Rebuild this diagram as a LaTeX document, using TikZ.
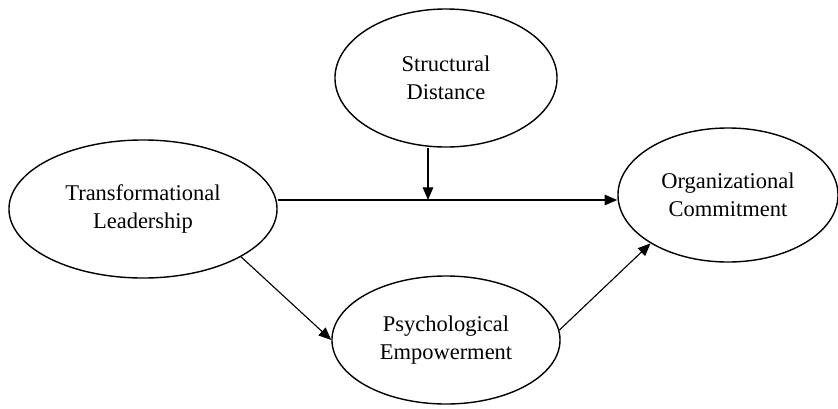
\documentclass[tikz,border=0pt]{standalone}
\usepackage{fontspec}
\setmainfont{Liberation Serif}
\usetikzlibrary{shapes.geometric,arrows.meta}

\begin{document}
\begin{tikzpicture}[x=0.025cm, y=-0.025cm, line width=1pt,
            factor/.style = {ellipse, draw,
                inner sep=0pt, align=center,
                font=\fontsize{16}{19.5}\selectfont},
            link/.style = {line width=0.8pt,
                -{Triangle[length=9pt,width=7.5pt]}}]

        \useasboundingbox (0,0) rectangle (838,409);

        % Structural distance
        \node[factor, minimum width=5.55cm, minimum height=3.45cm] (SD) at (446,78) {Structural\\Distance};

        % Transformational leadership
        \node[factor, minimum width=6.7cm, minimum height=3.45cm] (TL) at (143,209) {Transformational\\Leadership};

        % Organizational commitment
        \node[factor, minimum width=5.5cm, minimum height=3.35cm] (OC) at (728,195) {Organizational\\Commitment};

        % Psychological empowerment
        \node[factor, minimum width=5.7cm, minimum height=3.2cm] (PE) at (446,340) {Psychological\\Empowerment};

        % Paths
        \coordinate (mod) at (428,200);
        \draw[link] (TL.east |- mod) -- (OC.west |- mod);
        \draw[link] (SD.south -| mod) -- (mod);
        \draw[link] (TL.-26) -- (PE.west);
        \draw[link] (PE.5) -- (OC.212);

        \end{tikzpicture}
\end{document}
